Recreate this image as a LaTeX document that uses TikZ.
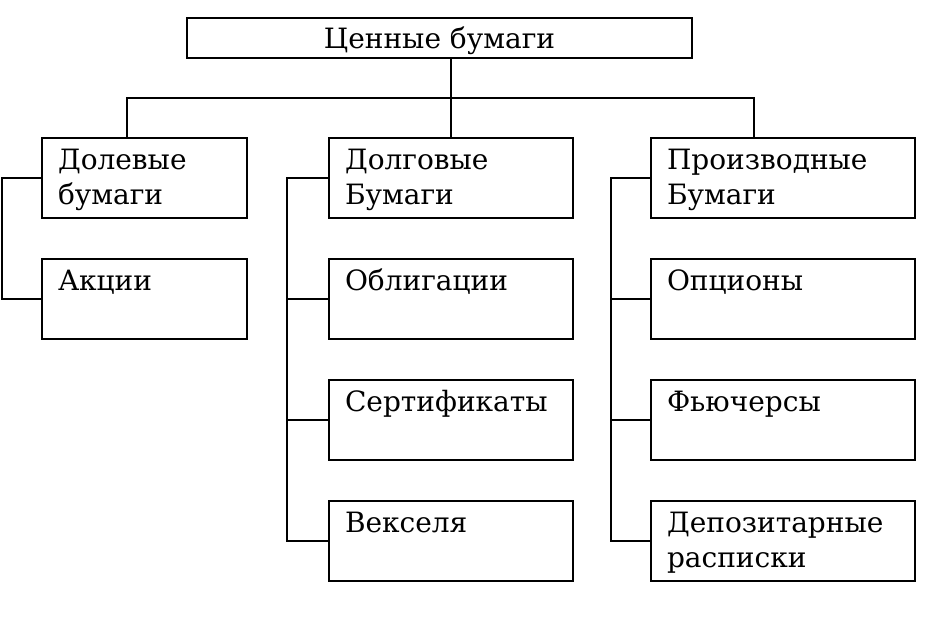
\documentclass[tikz,border=0pt]{standalone}
\usepackage{fontspec}
\setmainfont{DejaVu Serif}
\usetikzlibrary{positioning}

\begin{document}
\begin{tikzpicture}[
  x=1pt, y=-1pt,
  font=\fontsize{28}{35}\selectfont,
  line width=1.8pt,
  box/.style={
    draw, align=left, inner xsep=16pt, inner ysep=0pt, outer sep=0pt,
    text height=31pt, text depth=49pt, text width=#1,
  },
  node distance=41pt,
]
\useasboundingbox (0,0) rectangle (940,641);

\node[draw, inner sep=0pt, outer sep=0pt, minimum width=505pt, text height=30pt,
  text depth=10pt, anchor=north west] (top) at (187,18) {Ценные бумаги};

% Columns
\node[box=173pt, anchor=north west] (dol) at (42,138) {Долевые\\бумаги};
\node[box=173pt, below=of dol] (akc) {Акции};

\node[box=212pt, anchor=north west] (dolg) at (329,138) {Долговые\\Бумаги};
\node[box=212pt, below=of dolg] (obl) {Облигации};
\node[box=212pt, below=of obl] (sert) {Сертификаты};
\node[box=212pt, below=of sert] (veks) {Векселя};

\node[box=232pt, anchor=north west] (proizv) at (651,138) {Производные\\Бумаги};
\node[box=232pt, below=of proizv] (opc) {Опционы};
\node[box=232pt, below=of opc] (fuch) {Фьючерсы};
\node[box=232pt, below=of fuch] (depo) {Депозитарные\\расписки};

% Top bus
\coordinate (bl) at (127,98);
\coordinate (br) at (754,98);
\draw (dolg.north |- top.south) -- (dolg.north);
\draw (bl |- dol.north) -- (bl) -- (br) -- (br |- proizv.north);

% Side spines
\coordinate (s1) at (2,0);
\coordinate (s2) at (287,0);
\coordinate (s3) at (611,0);
\draw (dol.west) -| (s1 |- akc.west) -- (akc.west);
\draw (dolg.west) -| (s2 |- veks.west) -- (veks.west);
\draw (proizv.west) -| (s3 |- depo.west) -- (depo.west);
\foreach \n in {obl, sert}
  \draw (\n.west) -- (\n.west -| s2);
\foreach \n in {opc, fuch}
  \draw (\n.west) -- (\n.west -| s3);

\end{tikzpicture}
\end{document}
